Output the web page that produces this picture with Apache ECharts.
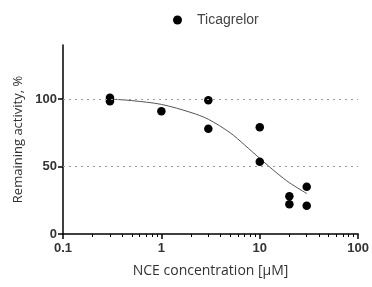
<!DOCTYPE html>
<html><head><meta charset="utf-8">
<script src="https://cdn.jsdelivr.net/npm/echarts@6/dist/echarts.min.js"></script>
<style>html,body{margin:0;padding:0;background:#fff}#c{width:372px;height:287px}</style>
</head><body><div id="c"></div>
<script>
var seriesName = 'Ticagrelor';
var concX = [0.3, 0.3, 1, 3, 3, 10, 10, 20, 20, 30, 30];
var activity = [100.9, 98.4, 91, 99, 78, 79, 53.5, 28, 22, 35, 21];
var fitX = [0.3, 0.5, 1, 2, 3, 5, 7, 10, 15, 20, 30];
var fitY = [100, 98.8, 96, 90, 85, 75, 66, 56, 45, 38, 30];
var xMajorTicks = [0.1, 1, 10, 100];
var xMinorTicks = [0.2,0.3,0.4,0.5,0.6,0.7,0.8,0.9,2,3,4,5,6,7,8,9,20,30,40,50,60,70,80,90];
var yTicks = [0, 50, 100];
var refLines = [50, 100];

var chart = echarts.init(document.getElementById('c'));
var lab = {color:'#333', fontSize:13, fontWeight:'bold', fontFamily:'Liberation Sans, Arial, sans-serif'};
chart.setOption({
  animation:false,
  legend:{left:168, top:8, itemWidth:9, itemHeight:9, data:[{name:seriesName, icon:'circle'}],
    itemStyle:{color:'#000', opacity:1},
    textStyle:{color:'#444', fontSize:14, fontFamily:'Liberation Sans, Arial, sans-serif', padding:[0,0,0,10]}},
  grid:{left:63, right:12, top:45, bottom:53},
  xAxis:[{type:'log', logBase:10, min:0.1, max:100,
    name:'NCE concentration [µM]', nameLocation:'middle', nameGap:30,
    nameTextStyle:{color:'#333', fontSize:14, fontFamily:'Open Sans, sans-serif'},
    axisLine:{lineStyle:{color:'#000', width:1.5}},
    axisTick:{customValues:xMajorTicks, length:5, lineStyle:{color:'#000', width:1.5}},
    axisLabel:{customValues:xMajorTicks, margin:8, formatter:function(v){return String(v);}, ...lab},
    splitLine:{show:false}, minorTick:{show:false}},
   {type:'log', logBase:10, min:0.1, max:100, position:'bottom',
    axisLine:{show:false}, axisLabel:{show:false}, splitLine:{show:false},
    axisTick:{customValues:xMinorTicks, length:3, lineStyle:{color:'#000', width:1}}}],
  yAxis:{type:'value', min:0, max:140,
    name:'Remaining activity, %', nameLocation:'middle', nameGap:37,
    nameTextStyle:{color:'#333', fontSize:13, fontFamily:'Open Sans, sans-serif'},
    axisLine:{show:true, lineStyle:{color:'#000', width:1.5}},
    axisTick:{show:true, customValues:yTicks, length:5, lineStyle:{color:'#000', width:1.5}},
    axisLabel:{customValues:yTicks, margin:6, ...lab},
    splitLine:{show:false}},
  series:[
    {name:seriesName, type:'scatter', symbol:'circle', symbolSize:8.5, itemStyle:{color:'#000', opacity:1},
     data:concX.map(function(x,i){return [x, activity[i]];}), z:3,
     markLine:{silent:true, symbol:'none', label:{show:false},
       lineStyle:{color:'#999', type:[2,4], width:1.2},
       data:refLines.map(function(v){return {yAxis:v};})}},
    {name:'fit', type:'line', smooth:0.3, showSymbol:false, symbol:'none',
     lineStyle:{color:'#555', width:1}, data:fitX.map(function(x,i){return [x, fitY[i]];}), z:2}
  ]
});
</script></body></html>
